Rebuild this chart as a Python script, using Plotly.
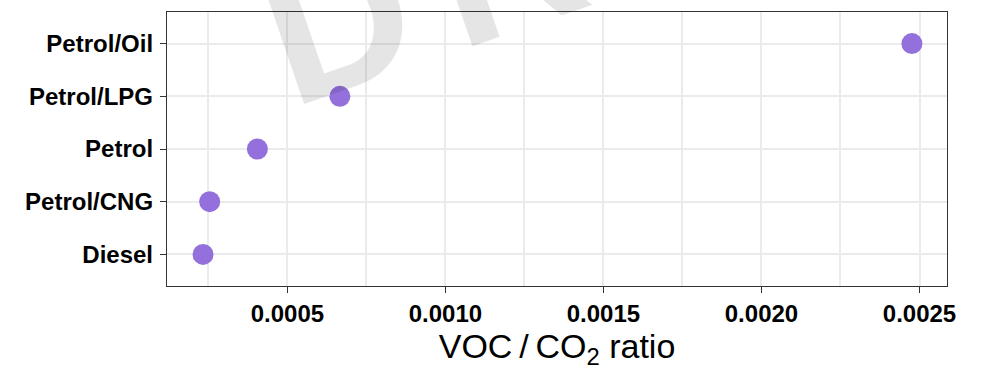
import plotly.graph_objects as go

categories = ["Diesel", "Petrol/CNG", "Petrol", "Petrol/LPG", "Petrol/Oil"]
voc_co2_ratio = [0.000233, 0.000254, 0.000405, 0.000666, 0.002476]
x_tick_vals = [0.0005, 0.0010, 0.0015, 0.0020, 0.0025]
x_tick_text = ["0.0005", "0.0010", "0.0015", "0.0020", "0.0025"]

fig = go.Figure()
fig.add_trace(go.Scatter(
    x=voc_co2_ratio, y=categories, mode="markers",
    marker=dict(size=21, color="#9370DB", line=dict(width=0)),
    cliponaxis=False, showlegend=False,
))

axis_common = dict(
    showline=True, mirror=True, linecolor="#333333", linewidth=1.3,
    ticks="outside", ticklen=6, tickwidth=1.3, tickcolor="#333333",
    gridcolor="#EBEBEB", gridwidth=2, zeroline=False,
    tickfont=dict(family="Liberation Sans", size=24, color="black", weight="bold"),
)

fig.update_layout(
    width=981, height=370,
    margin=dict(l=167, r=34, t=11, b=81),
    plot_bgcolor="white", paper_bgcolor="white",
    xaxis=dict(
        range=[0.000119, 0.002587],
        tickvals=x_tick_vals, ticktext=x_tick_text,
        minor=dict(showgrid=True, dtick=0.00025, tick0=0.00025, gridcolor="#EBEBEB", gridwidth=1.5, ticks=""),
        title=dict(text="VOC\u2009/\u2009CO<sub>2</sub> ratio",
                   font=dict(family="Liberation Sans", size=34, color="black"),
                   standoff=8),
        **axis_common,
    ),
    yaxis=dict(
        type="category", categoryorder="array", categoryarray=categories,
        range=[-0.6, 4.6], ticklabelstandoff=2,
        **axis_common,
    ),
    annotations=[dict(
        text="D\u2006R\u2006A\u2006F\u2006T", xref="paper", yref="paper", x=0.6225, y=1.369,
        xanchor="center", yanchor="middle", showarrow=False, textangle=-19,
        font=dict(family="Liberation Sans", size=200, color="rgba(0,0,0,0.1)", weight="bold"),
    )],
)

fig.write_html("out.html")
